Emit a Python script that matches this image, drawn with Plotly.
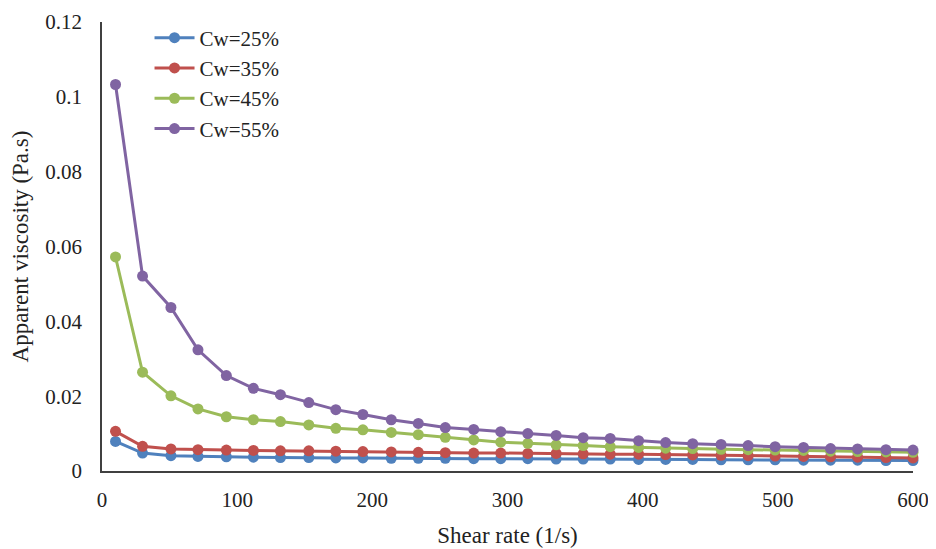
import plotly.graph_objects as go

shear_rate = [10, 30, 51, 71, 92, 112, 132, 153, 173, 193, 214, 234, 254, 275, 295,
              315, 336, 356, 376, 397, 417, 437, 458, 478, 498, 519, 539, 559, 580, 600]

cw25 = [0.0079, 0.0048, 0.0041, 0.0039, 0.0038, 0.0037, 0.0036, 0.0036, 0.0035, 0.0035,
        0.0034, 0.0034, 0.0034, 0.0033, 0.0033, 0.0033, 0.0032, 0.0032, 0.0032, 0.0031,
        0.0031, 0.0031, 0.0030, 0.0030, 0.0030, 0.0029, 0.0029, 0.0029, 0.0028, 0.0028]
cw35 = [0.0106, 0.0066, 0.0059, 0.0057, 0.0056, 0.0055, 0.0054, 0.0054, 0.0053, 0.0052,
        0.0051, 0.0050, 0.0049, 0.0048, 0.0048, 0.0047, 0.0047, 0.0046, 0.0045, 0.0045,
        0.0044, 0.0043, 0.0042, 0.0041, 0.0040, 0.0039, 0.0038, 0.0037, 0.0036, 0.0035]
cw45 = [0.0572, 0.0264, 0.0201, 0.0166, 0.0145, 0.0137, 0.0132, 0.0123, 0.0114, 0.0110,
        0.0103, 0.0097, 0.0090, 0.0083, 0.0077, 0.0074, 0.0070, 0.0068, 0.0065, 0.0063,
        0.0061, 0.0060, 0.0058, 0.0057, 0.0056, 0.0055, 0.0053, 0.0052, 0.0051, 0.0050]
cw55 = [0.1033, 0.0521, 0.0437, 0.0324, 0.0255, 0.0221, 0.0204, 0.0183, 0.0164, 0.0151,
        0.0137, 0.0127, 0.0116, 0.0111, 0.0105, 0.0100, 0.0095, 0.0089, 0.0087, 0.0081,
        0.0076, 0.0073, 0.0071, 0.0068, 0.0065, 0.0063, 0.0060, 0.0059, 0.0057, 0.0056]

series_names = ["Cw=25%", "Cw=35%", "Cw=45%", "Cw=55%"]
series_values = [cw25, cw35, cw45, cw55]
colors = ["#4F81BD", "#C0504D", "#9BBB59", "#8064A2"]

x_ticks = [0, 100, 200, 300, 400, 500, 600]
y_ticks = [0, 0.02, 0.04, 0.06, 0.08, 0.1, 0.12]

fig = go.Figure()
for name, vals, col in zip(series_names, series_values, colors):
    fig.add_trace(go.Scatter(
        x=shear_rate, y=vals, name=name, mode="lines+markers",
        line=dict(color=col, width=3),
        marker=dict(color=col, size=11),
        cliponaxis=False,
    ))

font_family = "Liberation Serif"
fig.update_layout(
    width=928, height=541,
    margin=dict(l=94, r=23, t=14, b=78, autoexpand=False),
    paper_bgcolor="white", plot_bgcolor="white",
    font=dict(family=font_family, size=21, color="#222222"),
    showlegend=True,
    legend=dict(x=0.0586, y=1.01, xanchor="left", yanchor="top",
                bgcolor="rgba(0,0,0,0)", font=dict(size=21, family=font_family),
                tracegroupgap=0, itemwidth=40),
    xaxis=dict(range=[0, 600], tickvals=x_ticks, showgrid=False, zeroline=False,
               showline=True, linecolor="#404040", linewidth=1.5, ticks="",
               automargin=False, ticklabelstandoff=9, ticklabeloverflow="allow",
               title=dict(text="Shear rate (1/s)", font=dict(size=23, family=font_family), standoff=16)),
    yaxis=dict(range=[0, 0.12], tickvals=y_ticks, showgrid=False, zeroline=False,
               showline=True, linecolor="#404040", linewidth=1.5, ticks="",
               automargin=False, ticklabelstandoff=14, ticklabeloverflow="allow",
               title=dict(text="Apparent viscosity (Pa.s)", font=dict(size=23, family=font_family), standoff=18)),
)

fig.write_html("out.html")
